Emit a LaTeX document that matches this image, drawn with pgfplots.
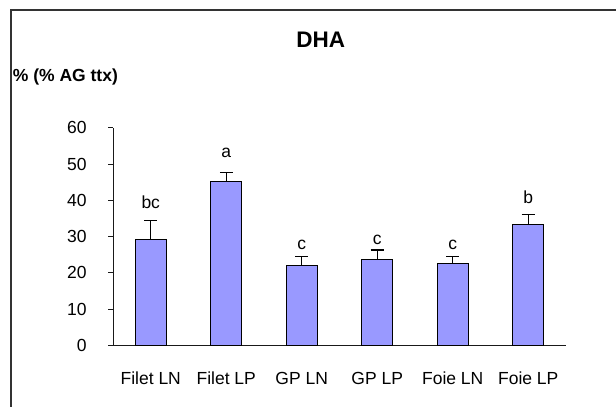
\documentclass[border=0pt]{standalone}
\usepackage{fontspec}
\setmainfont{Liberation Sans}
\usepackage{pgfplots}
\pgfplotsset{compat=1.18}
\definecolor{barfill}{HTML}{9999FF}
\begin{document}
\begin{tikzpicture}
\useasboundingbox (0pt,0pt) rectangle (616pt,-407pt);
\draw[line width=1.5pt, color=black!80] (11pt,-407pt) -- (11pt,-10pt) -- (616pt,-10pt);
\node[font=\bfseries\fontsize{22.5}{27}\selectfont, anchor=base, inner sep=0pt] at (320.7pt,-47.3pt) {DHA};
\node[font=\bfseries\fontsize{17.5}{21}\selectfont, anchor=base west, inner sep=0pt] at (12.7pt,-81.5pt) {\% (\% AG ttx)};
\begin{axis}[
  at={(113pt,-345.3pt)}, anchor=south west,
  scale only axis, width=453pt, height=217.5pt,
  xmin=0.5, xmax=6.5, ymin=0, ymax=60,
  axis x line=bottom, axis y line=left,
  axis line style={-, line width=0.8pt, black!90},
  tick align=outside,
  major tick length=5pt, minor tick length=6pt,
  tick style={line width=0.8pt, black!90},
  xtick={1,2,3,4,5,6},
  xticklabels={Filet LN, Filet LP, GP LN, GP LP, Foie LN, Foie LP},
  xtick style={draw=none},
  minor xtick={0.5,1.5,2.5,3.5,4.5,5.5,6.5},
  ytick={0,10,20,30,40,50,60},
  /pgf/number format/assume math mode=true,
  tick label style={font=\fontsize{17.5}{21}\selectfont},
  xticklabel style={anchor=base, yshift=-34pt},
  yticklabel style={anchor=east, inner sep=0pt, xshift=-21.3pt},
  clip=false,
]
\addplot[ybar, bar width=31pt, fill=barfill, draw=black, line width=1pt,
  error bars/.cd, y dir=plus, y explicit,
  error bar style={line width=1.2pt, black},
  error mark options={rotate=90, mark size=6.5pt, line width=1.2pt, black}]
  coordinates {
  (1,29.2) +- (0,5.3)
  (2,45.1) +- (0,2.5)
  (3,22.1) +- (0,2.4)
  (4,23.8) +- (0,2.5)
  (5,22.5) +- (0,2.0)
  (6,33.2) +- (0,2.8)
  };
\addplot[draw=none, mark=none, nodes near coords, point meta=explicit symbolic,
  every node near coord/.append style={anchor=base, inner sep=0pt, font=\fontsize{17.5}{21}\selectfont}]
  coordinates {
  (1,37.8) [bc]
  (2,51.8) [a]
  (3,26.3) [c]
  (4,27.9) [c]
  (5,26.5) [c]
  (6,39.2) [b]
  };
\end{axis}
\end{tikzpicture}
\end{document}
